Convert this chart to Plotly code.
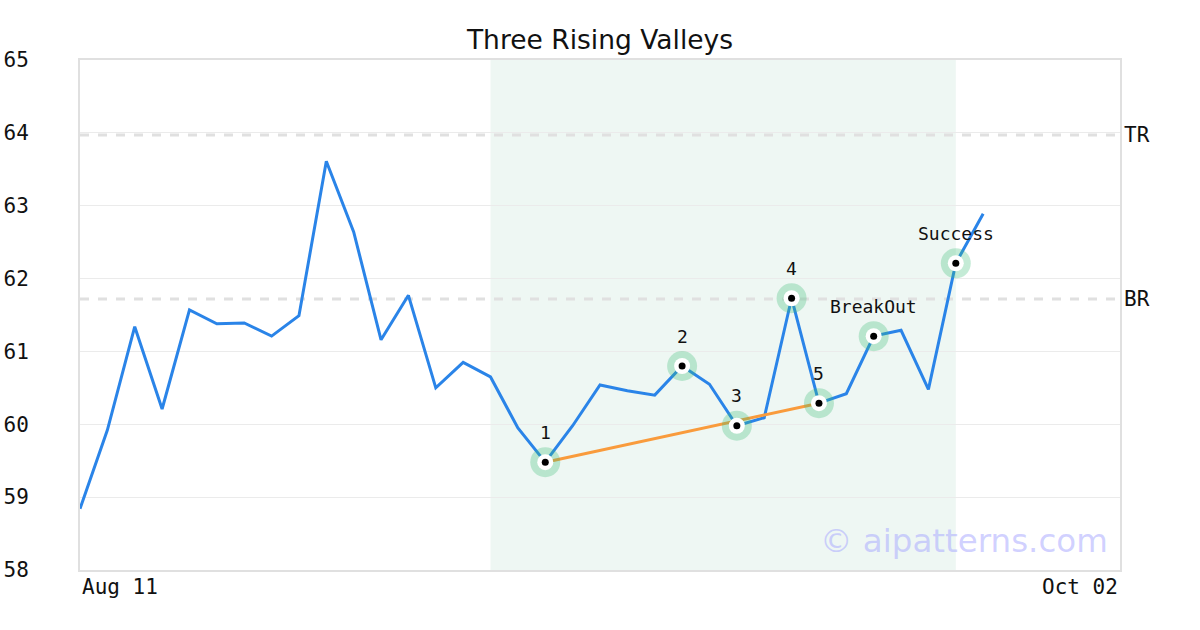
import plotly.graph_objects as go

x_idx = list(range(34))
prices = [58.84, 59.92, 61.34, 60.21, 61.57, 61.38, 61.39, 61.21, 61.49, 63.61,
          62.64, 61.16, 61.77, 60.50, 60.85, 60.65, 59.95, 59.48, 59.98, 60.54,
          60.46, 60.40, 60.80, 60.55, 59.98, 60.09, 61.73, 60.29, 60.42, 61.21,
          61.29, 60.48, 62.21, 62.89]

pivot_idx = [17, 22, 24, 26, 27, 29, 32]
pivot_labels = ["1", "2", "3", "4", "5", "BreakOut", "Success"]

trend_idx = [17, 27]
tr_level = 63.97
br_level = 61.72
shade_range = [15, 32]
x_range = [0, 38]
y_range = [58, 65]
x_tick_idx = [0, 38]
x_tick_text = ["Aug 11", "Oct 02"]
y_ticks = [58, 59, 60, 61, 62, 63, 64, 65]

MONO = "DejaVu Sans Mono"

fig = go.Figure()

fig.add_shape(type="rect", xref="x", yref="paper", x0=shade_range[0], x1=shade_range[1],
              y0=0, y1=1, fillcolor="#eef7f3", line_width=0, layer="below")

for lvl, name in [(tr_level, "TR"), (br_level, "BR")]:
    fig.add_shape(type="line", xref="paper", yref="y", x0=0, x1=1, y0=lvl, y1=lvl,
                  line=dict(color="#e0e0e0", width=3, dash="dash"), layer="below")
    fig.add_annotation(xref="paper", yref="y", x=1, y=lvl, text=name, showarrow=False,
                       xanchor="left", xshift=2, font=dict(family=MONO, size=21, color="#111"))

fig.add_trace(go.Scatter(x=x_idx, y=prices, mode="lines",
                         line=dict(color="#2a84e8", width=3), hoverinfo="skip"))

fig.add_trace(go.Scatter(x=trend_idx, y=[prices[i] for i in trend_idx], mode="lines",
                         line=dict(color="#f99b3c", width=3), hoverinfo="skip"))

px_ = [x_idx[i] for i in pivot_idx]
py_ = [prices[i] for i in pivot_idx]
fig.add_trace(go.Scatter(x=px_, y=py_, mode="markers",
                         marker=dict(size=30, color="rgba(60,190,120,0.3)", line_width=0),
                         hoverinfo="skip"))
fig.add_trace(go.Scatter(x=px_, y=py_, mode="markers",
                         marker=dict(size=16, color="white", line_width=0), hoverinfo="skip"))
fig.add_trace(go.Scatter(x=px_, y=py_, mode="markers",
                         marker=dict(size=7, color="black", line_width=0), hoverinfo="skip"))

for xi, yi, lab in zip(px_, py_, pivot_labels):
    fig.add_annotation(xref="x", yref="y", x=xi, y=yi, text=lab, showarrow=False,
                       yanchor="middle", yshift=30,
                       font=dict(family=MONO, size=18, color="#111"))

for xi, txt, anchor in zip(x_tick_idx, x_tick_text, ["left", "right"]):
    fig.add_annotation(xref="x", yref="paper", x=xi, y=0, yanchor="top", yshift=-3,
                       xanchor=anchor, text=txt, showarrow=False,
                       font=dict(family=MONO, size=21, color="#111"))

fig.add_annotation(xref="paper", yref="paper", x=0.9905, y=0.015, xanchor="right", yanchor="bottom",
                   text="© aipatterns.com", showarrow=False,
                   font=dict(family="DejaVu Sans", size=32.5, color="rgba(170,170,255,0.55)"))

fig.update_layout(
    width=1200, height=630,
    margin=dict(l=80, r=80, t=60, b=60),
    paper_bgcolor="white", plot_bgcolor="white",
    showlegend=False,
    title=dict(text="Three Rising Valleys", x=0.5, xanchor="center", y=0.937, yanchor="middle",
               font=dict(family="DejaVu Sans", size=26.5, color="#111")),
    xaxis=dict(range=x_range, showgrid=False, zeroline=False, showticklabels=False,
               showline=True, mirror=True, linecolor="#e0e0e0", linewidth=2, automargin=False),
    yaxis=dict(range=y_range, tickvals=y_ticks, showgrid=True, gridcolor="#ebebeb", gridwidth=1,
               zeroline=False, showline=True, mirror=True, linecolor="#e0e0e0", linewidth=2,
               tickfont=dict(family=MONO, size=21, color="#111"), ticklabelstandoff=45,
               automargin=False),
)

fig.write_html("out.html", config={"displayModeBar": False},
               post_script="document.body.style.margin='0px';")
